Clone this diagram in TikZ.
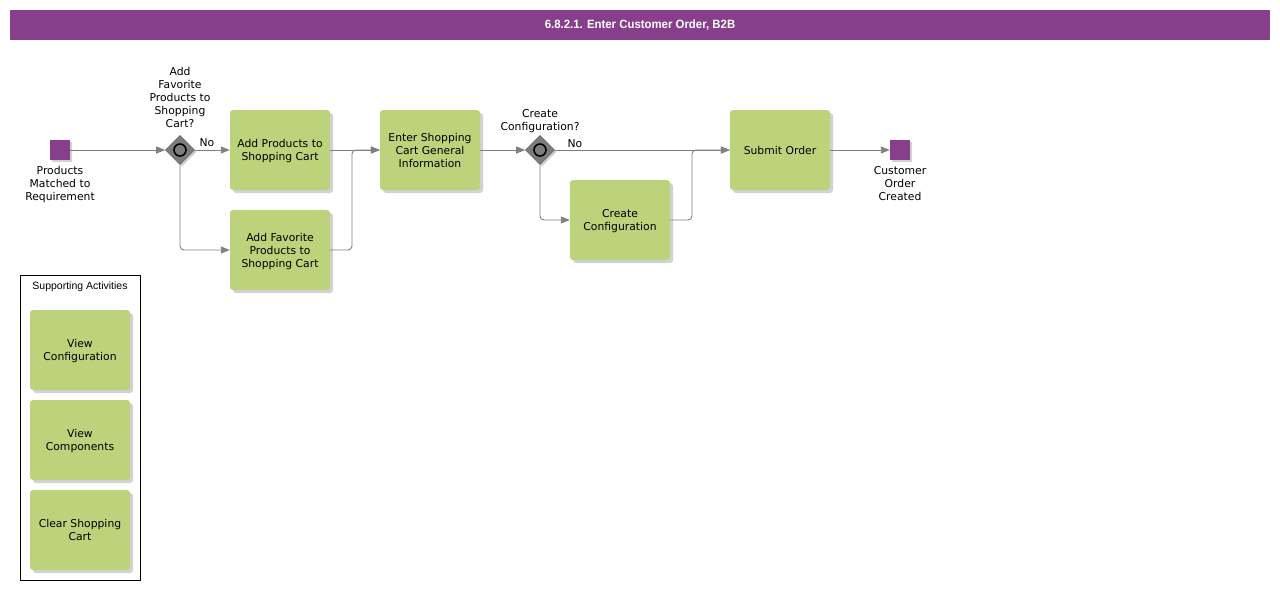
\documentclass[tikz,border=0pt]{standalone}
\usepackage{fontspec}
\setmainfont{DejaVu Sans}
\newfontfamily\titlefont[FakeStretch=0.95]{Liberation Sans}
\newfontfamily\arialfont{Liberation Sans}
\usetikzlibrary{shapes.geometric,arrows.meta,shadows}
\definecolor{bpurple}{RGB}{135,63,140}
\definecolor{bgreen}{RGB}{189,211,123}
\definecolor{flowgray}{RGB}{128,128,128}
\definecolor{gwgray}{RGB}{125,125,125}
\begin{document}
\begin{tikzpicture}[x=1pt,y=-1pt,
  txt/.style={font=\fontsize{10.8}{13}\selectfont, align=center, inner sep=0pt, text depth=0pt},
  task/.style={txt, fill=bgreen, rounded corners=3pt, minimum width=100pt, minimum height=80pt,
    drop shadow={shadow xshift=3pt, shadow yshift=-3pt, fill=black!25, opacity=0.7}},
  event/.style={fill=bpurple, minimum size=20pt, inner sep=0pt,
    drop shadow={shadow xshift=2pt, shadow yshift=-2pt, fill=black!25, opacity=0.7}},
  gw/.style={diamond, aspect=1, fill=gwgray, draw=black!60, line width=0.6pt, minimum width=29pt, minimum height=29pt, inner sep=0pt,
    drop shadow={shadow xshift=2pt, shadow yshift=-2pt, fill=black!25, opacity=0.7}},
  lbl/.style={txt},
  flow/.style={draw=flowgray, line width=0.9pt, rounded corners=4pt, -{Triangle[length=9pt,width=7pt,fill=flowgray]}},
]
\useasboundingbox (0,0) rectangle (1280,590);
\fill[white] (0,0) rectangle (1280,590);
% title bar
\node[fill=bpurple, minimum width=1260pt, minimum height=30pt, inner sep=0pt, text=white,
  font=\titlefont\bfseries\fontsize{12}{14}\selectfont] (title) at (640,25) {6.8.2.1. Enter Customer Order, B2B};

% events
\node[event] (start) at (60,150) {};
\node[lbl] (startlbl) at (60,183.5) {Products\\Matched to\\Requirement};
\node[event] (end) at (900,150) {};
\node[lbl] (endlbl) at (900,183.5) {Customer\\Order\\Created};

% gateways
\node[gw] (g1) at (180,150) {};
\draw[black, line width=1.6pt, fill=gwgray] (g1.center) circle[radius=6pt];
\node[lbl] (g1lbl) at (180,97.5) {Add\\Favorite\\Products to\\Shopping\\Cart?};
\node[gw] (g2) at (540,150) {};
\draw[black, line width=1.6pt, fill=gwgray] (g2.center) circle[radius=6pt];
\node[lbl] (g2lbl) at (540,120) {Create\\Configuration?};

% tasks
\node[task] (a1) at (280,150) {Add Products to\\Shopping Cart};
\node[task] (a2) at (280,250) {Add Favorite\\Products to\\Shopping Cart};
\node[task] (b) at (430,150) {Enter Shopping\\Cart General\\Information};
\node[task] (cc) at (620,220) {Create\\Configuration};
\node[task] (so) at (780,150) {Submit Order};

% merge points
\coordinate (m1) at (352,150);
\coordinate (m2) at (692,150);

% flows
\draw[flow] (start.east) -- (g1.west);
\draw[flow] (g1.east) -- (a1.west);
\node[lbl] (no1) at (207,142.5) {No};
\draw[flow] (g1.south) |- (a2.west);
\draw[flow] (a1.east) -- (b.west);
\draw[flow] (a2.east) -| (m1) -- (b.west);
\draw[flow] (b.east) -- (g2.west);
\draw[flow] (g2.east) -- (so.west);
\node[lbl] (no2) at (575,143.5) {No};
\draw[flow] (g2.south) |- (cc.west);
\draw[flow] (cc.east) -| (m2) -- (so.west);
\draw[flow] (so.east) -- (end.west);

% supporting activities
\node[draw=black, line width=0.8pt, minimum width=120pt, minimum height=305pt, inner sep=0pt] (sup) at (80,427.5) {};
\node[font=\arialfont\fontsize{10.5}{12}\selectfont, inner sep=0pt] (suptitle) at (80,286.5) {Supporting Activities};
\node[task] (s1) at (80,350) {View\\Configuration};
\node[task] (s2) at (80,440) {View\\Components};
\node[task] (s3) at (80,530) {Clear Shopping\\Cart};
\end{tikzpicture}
\end{document}
